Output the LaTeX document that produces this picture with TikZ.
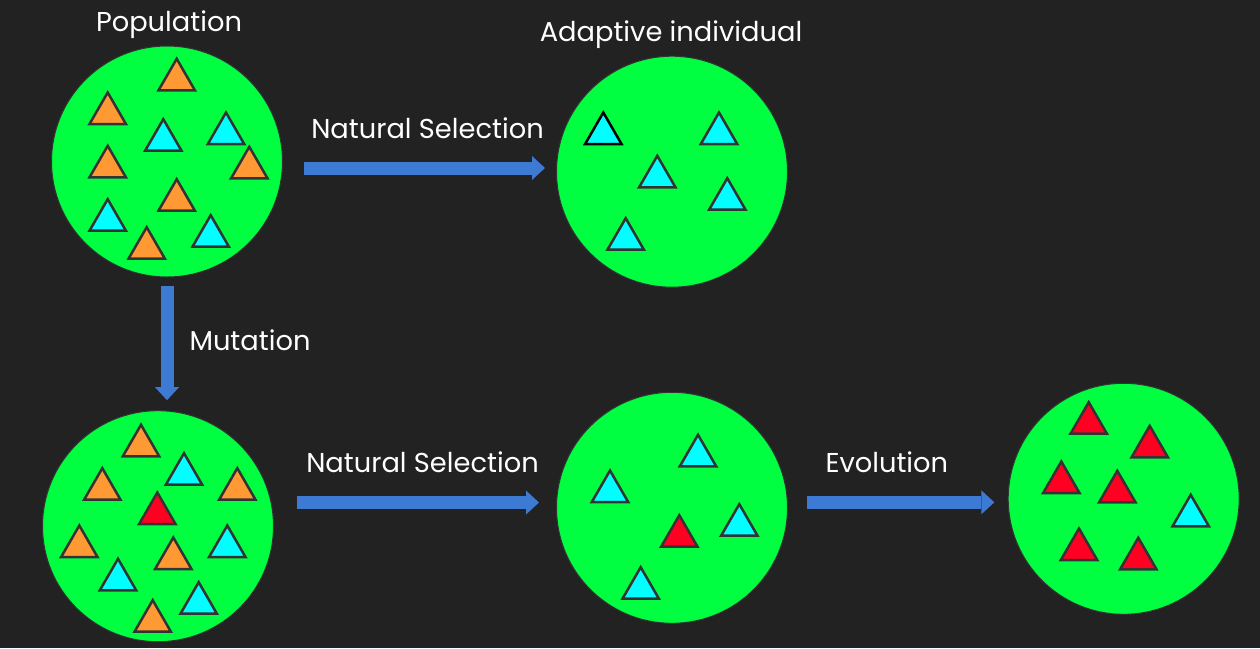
\documentclass[tikz,border=0pt]{standalone}
\usepackage{fontspec}
\setmainfont{Poppins}
\usepackage{xcolor}
\usepackage{tikz}
\usetikzlibrary{shapes.geometric,arrows.meta,positioning,calc}
\definecolor{bgdark}{RGB}{34, 34, 34}
\definecolor{poolgreen}{RGB}{0, 255, 65}
\definecolor{traitorange}{RGB}{255, 153, 51}
\definecolor{traitcyan}{RGB}{0, 255, 255}
\definecolor{traitred}{RGB}{255, 0, 34}
\definecolor{flowblue}{RGB}{60, 122, 212}
\definecolor{edgegrey}{RGB}{51, 51, 51}

\begin{document}
\begin{tikzpicture}[
    x=1pt, y=-1pt,
    pool/.style={circle, fill=poolgreen, draw=edgegrey, line width=1pt, minimum size=231pt, inner sep=0pt},
    tri/.style={regular polygon, regular polygon sides=3, draw=edgegrey, line width=2.5pt, minimum size=42pt, inner sep=0pt},
    flow/.style={draw=flowblue, line width=13pt, -{Triangle[width=24pt, length=13pt, line width=0pt]}},
    lbl/.style={text=white, font=\fontsize{27.3}{32}\selectfont, anchor=base},
]
    % Background
    \fill[bgdark] (0,0) rectangle (1260,648);

    % Pools
    \node[pool] (pop) at (167,161.5) {};
    \node[pool] (adapt) at (672,171.7) {};
    \node[pool] (mut) at (158,526.2) {};
    \node[pool] (sel) at (672,507.8) {};
    \node[pool] (evo) at (1123.7,498.8) {};

    % Individuals
    \foreach \x/\y/\c [count=\i] in {176.7/79.8/traitorange, 107.7/113.5/traitorange, 163.3/140.2/traitcyan,
        226/133.5/traitcyan, 107.7/166.8/traitorange, 249.3/167.8/traitorange, 176.7/200.2/traitorange,
        107.7/220.2/traitcyan, 210.7/236.2/traitcyan, 146.7/248.2/traitorange}
        \node[tri, fill=\c] (pop-\i) at (\x,\y) {};
    \node[tri, fill=traitcyan, draw=black] (adapt-1) at (603.3,133.5) {};
    \foreach \x/\y [count=\i from 2] in {719/133.5, 657.3/176.8, 727.3/199.2, 625.7/239.2}
        \node[tri, fill=traitcyan] (adapt-\i) at (\x,\y) {};
    \foreach \x/\y/\c [count=\i] in {141/445.8/traitorange, 184/474.2/traitcyan, 102.3/489.2/traitorange,
        237.3/489.2/traitorange, 157.3/513.5/traitred, 79.3/546.5/traitorange, 227.3/546.5/traitcyan,
        173.3/558.5/traitorange, 118/579.8/traitcyan, 198.7/603.2/traitcyan, 152.7/621.2/traitorange}
        \node[tri, fill=\c] (mut-\i) at (\x,\y) {};
    \foreach \x/\y/\c [count=\i] in {698/455.8/traitcyan, 610/491.5/traitcyan, 679.3/536.2/traitred,
        739.3/525.2/traitcyan, 640.7/588.2/traitcyan}
        \node[tri, fill=\c] (sel-\i) at (\x,\y) {};
    \foreach \x/\y/\c [count=\i] in {1088.7/423.2/traitred, 1149.7/446.8/traitred, 1061.3/482.5/traitred,
        1117.3/491.8/traitred, 1190.7/515.8/traitcyan, 1079/549.5/traitred, 1138.3/558.8/traitred}
        \node[tri, fill=\c] (evo-\i) at (\x,\y) {};

    % Labels
    \node[lbl] (poplabel) at (169,31.7) {Population};
    \node[lbl] (adaptlabel) at (671,41.7) {Adaptive individual};
    \node[lbl] (selabel-1) at (427.5,138.3) {Natural Selection};
    \node[lbl] (mutlabel) at (250,350.7) {Mutation};
    \node[lbl] (selabel-2) at (422.5,472.3) {Natural Selection};
    \node[lbl] (evolabel) at (886.8,472.3) {Evolution};

    % Arrows
    \draw[flow] ([shift={(20.5,6.5)}]pop.east) -- ([shift={(-11,-3.7)}]adapt.west);
    \draw[flow] ([yshift=-8pt]pop.south) -- ($(pop.south |- mut.north)+(0,-10)$);
    \draw[flow] ([shift={(23.3,-23.7)}]mut.east) -- ([shift={(-17,-5.3)}]sel.west);
    \draw[flow] ([shift={(19.3,-5.5)}]sel.east) -- ([shift={(-13.4,3.5)}]evo.west);
\end{tikzpicture}
\end{document}
